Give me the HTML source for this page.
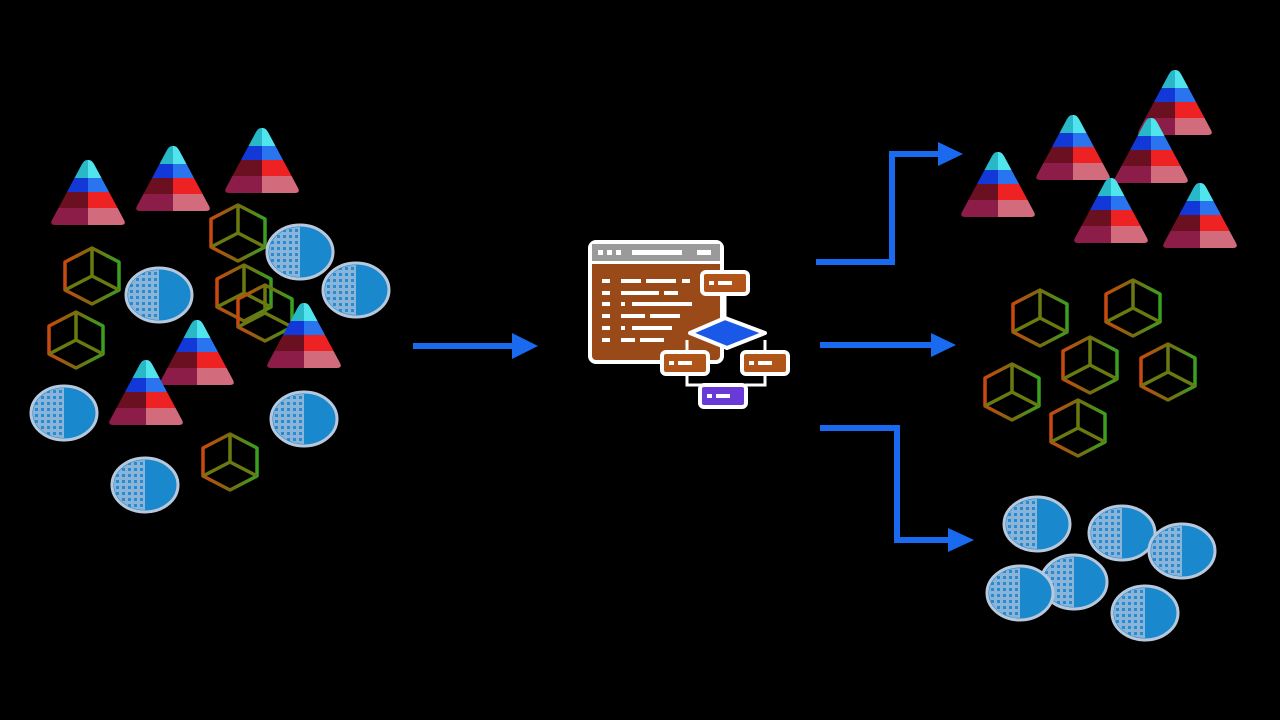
<!DOCTYPE html>
<html><head><meta charset="utf-8"><style>
html,body{margin:0;padding:0;background:#000;width:1280px;height:720px;overflow:hidden}
</style></head><body>
<svg width="1280" height="720" viewBox="0 0 1280 720" xmlns="http://www.w3.org/2000/svg">
<defs>
<clipPath id="tri"><path d="M0,0 C3,0 4,1 6,4 L36,60 C38,64 36,65 32,65 L-32,65 C-36,65 -38,64 -36,60 L-6,4 C-4,1 -3,0 0,0Z"/></clipPath>
<g id="pyr"><g clip-path="url(#tri)">
<rect x="-40" y="0" width="40" height="18" fill="#28b8c8"/><rect x="0" y="0" width="40" height="18" fill="#50e4ec"/>
<rect x="-40" y="18" width="40" height="14" fill="#1238d8"/><rect x="0" y="18" width="40" height="14" fill="#2a74f0"/>
<rect x="-40" y="32" width="40" height="16" fill="#6a1020"/><rect x="0" y="32" width="40" height="16" fill="#ee2222"/>
<rect x="-40" y="48" width="40" height="18" fill="#8c1c48"/><rect x="0" y="48" width="40" height="18" fill="#d26c7c"/>
</g></g>
<linearGradient id="cg" x1="0" y1="0" x2="1" y2="0"><stop offset="0" stop-color="#c84a10"/><stop offset="0.5" stop-color="#7a6a10"/><stop offset="1" stop-color="#3aa020"/></linearGradient>
<g id="cube" fill="none" stroke="url(#cg)" stroke-width="3.5" stroke-linejoin="round">
<path d="M0,-28 L27,-14 L27,14 L0,28 L-27,14 L-27,-14Z"/>
<path d="M0,-28 L0,0 L-27,14 M0,0 L27,14" stroke="#6a7a10"/>
</g>
<pattern id="dots" width="6" height="6" patternUnits="userSpaceOnUse"><rect width="6" height="6" fill="#8ab4d8"/><rect x="1" y="1" width="3" height="3" fill="#2a8ad0"/></pattern>
<clipPath id="lh"><rect x="-40" y="-40" width="40" height="80"/></clipPath>
<g id="disc">
<ellipse rx="33" ry="27" fill="#1a88cc" stroke="#b8c8dc" stroke-width="3"/>
<ellipse rx="31" ry="25" fill="url(#dots)" clip-path="url(#lh)"/>
</g>
</defs>

<!-- left cluster -->
<use href="#cube" x="238" y="233"/><use href="#cube" x="92" y="276"/><use href="#cube" x="244" y="293"/><use href="#cube" x="265" y="313"/><use href="#cube" x="76" y="340"/><use href="#cube" x="230" y="462"/>
<use href="#disc" x="300" y="252"/><use href="#disc" x="159" y="295"/><use href="#disc" x="356" y="290"/><use href="#disc" x="64" y="413"/><use href="#disc" x="304" y="419"/><use href="#disc" x="145" y="485"/>
<use href="#pyr" x="88" y="160"/><use href="#pyr" x="173" y="146"/><use href="#pyr" x="262" y="128"/><use href="#pyr" x="197" y="320"/><use href="#pyr" x="146" y="360"/><use href="#pyr" x="304" y="303"/>

<!-- arrows -->
<g fill="none" stroke="#1a6af0" stroke-width="6">
<path d="M413,346 H516"/>
<path d="M816,262 H892 V154 H942"/>
<path d="M820,345 H935"/>
<path d="M820,428 H897 V540 H952"/>
</g>
<g fill="#1a6af0">
<path d="M512,333 L538,346 L512,359Z"/>
<path d="M938,142 L963,154 L938,166Z"/>
<path d="M931,333 L956,345 L931,357Z"/>
<path d="M948,528 L974,540 L948,552Z"/>
</g>

<!-- center icon -->
<g stroke="#fff" stroke-width="4" stroke-linejoin="round">
<rect x="590" y="242" width="132" height="120" rx="6" fill="#9a4a18"/>
<path d="M590,262 H722" fill="none"/>
<rect x="592" y="244" width="128" height="17" fill="#9a9a9a" stroke="none"/>
</g>
<g fill="#fff">
<rect x="598" y="250" width="5" height="5"/><rect x="607" y="250" width="5" height="5"/><rect x="616" y="250" width="5" height="5"/><rect x="632" y="250" width="50" height="5"/><rect x="697" y="250" width="14" height="5"/>
<rect x="602" y="279" width="8" height="4"/><rect x="621" y="279" width="20" height="4"/><rect x="646" y="279" width="30" height="4"/><rect x="682" y="279" width="8" height="4"/>
<rect x="602" y="291" width="8" height="4"/><rect x="621" y="291" width="38" height="4"/><rect x="664" y="291" width="14" height="4"/>
<rect x="602" y="302" width="8" height="4"/><rect x="621" y="302" width="4" height="4"/><rect x="632" y="302" width="60" height="4"/>
<rect x="602" y="314" width="8" height="4"/><rect x="621" y="314" width="24" height="4"/><rect x="650" y="314" width="30" height="4"/>
<rect x="602" y="326" width="8" height="4"/><rect x="621" y="326" width="4" height="4"/><rect x="632" y="326" width="40" height="4"/>
<rect x="602" y="338" width="8" height="4"/><rect x="621" y="338" width="14" height="4"/><rect x="640" y="338" width="24" height="4"/>
</g>
<g fill="none" stroke="#fff" stroke-width="3">
<path d="M725,293 V320"/>
<path d="M687,340 V385 H705 M765,340 V385 H745"/>
</g>
<g stroke="#fff" stroke-width="4" stroke-linejoin="round">
<rect x="702" y="272" width="46" height="22" rx="4" fill="#b0541a"/>
<path d="M690,333 L725,318 L765,333 L727,348Z" fill="#1a58e8"/>
<rect x="662" y="352" width="46" height="22" rx="4" fill="#b0541a"/>
<rect x="742" y="352" width="46" height="22" rx="4" fill="#b0541a"/>
<rect x="700" y="385" width="46" height="22" rx="4" fill="#6a3ad8"/>
</g>
<g fill="#fff">
<rect x="709" y="281" width="5" height="4"/><rect x="718" y="281" width="14" height="4"/>
<rect x="669" y="361" width="5" height="4"/><rect x="678" y="361" width="14" height="4"/>
<rect x="749" y="361" width="5" height="4"/><rect x="758" y="361" width="14" height="4"/>
<rect x="707" y="394" width="5" height="4"/><rect x="716" y="394" width="14" height="4"/>
</g>

<!-- right groups -->
<use href="#pyr" x="1175" y="70"/><use href="#pyr" x="1073" y="115"/><use href="#pyr" x="1151" y="118"/><use href="#pyr" x="998" y="152"/><use href="#pyr" x="1111" y="178"/><use href="#pyr" x="1200" y="183"/>
<use href="#cube" x="1040" y="318"/><use href="#cube" x="1133" y="308"/><use href="#cube" x="1090" y="365"/><use href="#cube" x="1012" y="392"/><use href="#cube" x="1168" y="372"/><use href="#cube" x="1078" y="428"/>
<use href="#disc" x="1037" y="524"/><use href="#disc" x="1122" y="533"/><use href="#disc" x="1182" y="551"/><use href="#disc" x="1074" y="582"/><use href="#disc" x="1020" y="593"/><use href="#disc" x="1145" y="613"/>
</svg>
</body></html>
